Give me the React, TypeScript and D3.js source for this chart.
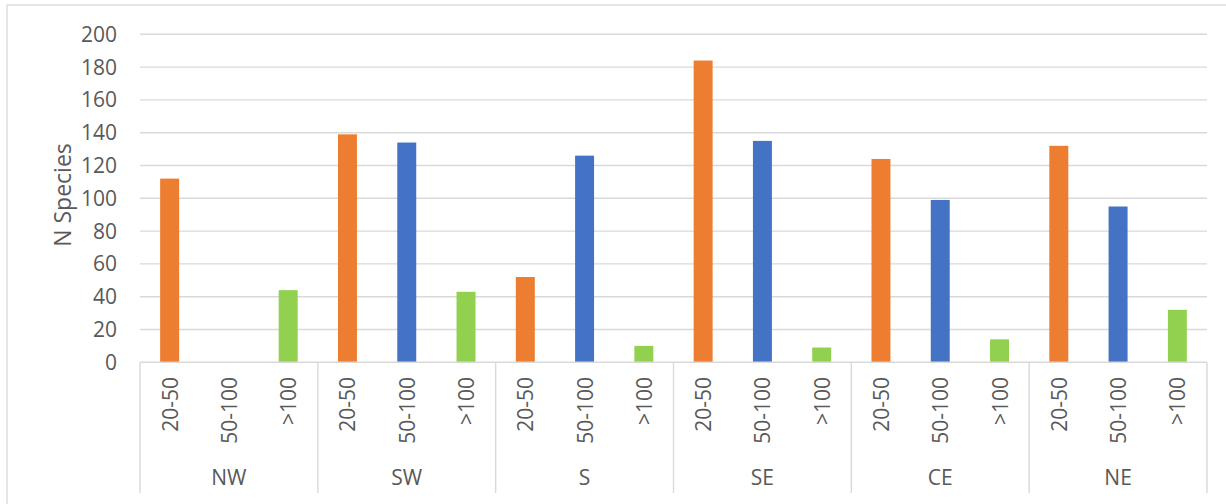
import React from "react";
import * as d3 from "d3";

// Regions along the outer category axis
const regions = ["NW", "SW", "S", "SE", "CE", "NE"];
// Size classes within each region
const sizeClasses = ["20-50", "50-100", ">100"];
// Species counts per region, one array per size class
const count2050 = [112, 139, 52, 184, 124, 132];
const count50100 = [0, 134, 126, 135, 99, 95];
const countOver100 = [44, 43, 10, 9, 14, 32];
const yTicks = [0, 20, 40, 60, 80, 100, 120, 140, 160, 180, 200];

const seriesColors = ["#ED7D31", "#4472C4", "#92D050"];

const W = 1226;
const H = 504;
const plot = { left: 140, right: 1207, top: 34.3, bottom: 362.3 };
const textColor = "#595959";
const fontFamily = "'Open Sans', 'DejaVu Sans', sans-serif";

export default function App() {
  const series = [count2050, count50100, countOver100];

  const x0 = d3.scaleBand<string>().domain(regions).range([plot.left, plot.right]).padding(0);
  const x1 = d3.scaleBand<string>().domain(sizeClasses).range([0, x0.bandwidth()]).padding(0);
  const y = d3.scaleLinear().domain([0, 200]).range([plot.bottom, plot.top]);

  const barW = x1.bandwidth() * 0.32;

  const bars: React.ReactNode[] = [];
  regions.forEach((r, gi) => {
    sizeClasses.forEach((s, si) => {
      const v = series[si][gi];
      if (v <= 0) return;
      const cx = (x0(r) as number) + (x1(s) as number) + x1.bandwidth() / 2;
      bars.push(
        <rect
          key={`${r}-${s}`}
          x={cx - barW / 2}
          y={y(v)}
          width={barW}
          height={y(0) - y(v)}
          fill={seriesColors[si]}
        />
      );
    });
  });

  const boundaries = [...regions.map((r) => x0(r) as number), plot.right];

  return (
    <svg
      width={W}
      height={H}
      style={{ position: "absolute", left: 0, top: 0, background: "#fff" }}
      fontFamily={fontFamily}
    >
      {/* chart frame */}
      <rect x={7} y={5} width={W + 10} height={H + 10} fill="#fff" stroke="#d9d9d9" strokeWidth={1.3} />

      {/* horizontal gridlines */}
      {yTicks.map((t) =>
        t === 0 ? null : (
          <line key={t} x1={plot.left} x2={plot.right} y1={y(t)} y2={y(t)} stroke="#d9d9d9" strokeWidth={1.4} />
        )
      )}

      {/* y tick labels */}
      {yTicks.map((t) => (
        <text
          key={`yl${t}`}
          x={117}
          y={y(t)}
          dy="0.36em"
          textAnchor="end"
          fontSize={21}
          fill={textColor}
        >
          {t}
        </text>
      ))}

      {/* y axis title */}
      <text
        transform={`translate(62,195) rotate(-90)`}
        textAnchor="middle"
        dominantBaseline="central"
        fontSize={23}
        fill={textColor}
      >
        N Species
      </text>

      {bars}

      {/* category axis line and group separators */}
      <line x1={plot.left} x2={plot.right} y1={plot.bottom} y2={plot.bottom} stroke="#d9d9d9" strokeWidth={1.4} />
      {boundaries.map((bx, i) => (
        <line key={`sep${i}`} x1={bx} x2={bx} y1={plot.bottom} y2={493} stroke="#d9d9d9" strokeWidth={1.4} />
      ))}

      {/* inner category labels */}
      {regions.map((r) =>
        sizeClasses.map((s) => {
          const cx = (x0(r) as number) + (x1(s) as number) + x1.bandwidth() / 2;
          return (
            <text
              key={`cl-${r}-${s}`}
              transform={`translate(${cx},377) rotate(-90)`}
              textAnchor="end"
              dominantBaseline="central"
              fontSize={21}
              fill={textColor}
            >
              {s}
            </text>
          );
        })
      )}

      {/* outer region labels */}
      {regions.map((r) => (
        <text
          key={`rl-${r}`}
          x={(x0(r) as number) + x0.bandwidth() / 2}
          y={477}
          dominantBaseline="central"
          textAnchor="middle"
          fontSize={21}
          fill={textColor}
        >
          {r}
        </text>
      ))}
    </svg>
  );
}
